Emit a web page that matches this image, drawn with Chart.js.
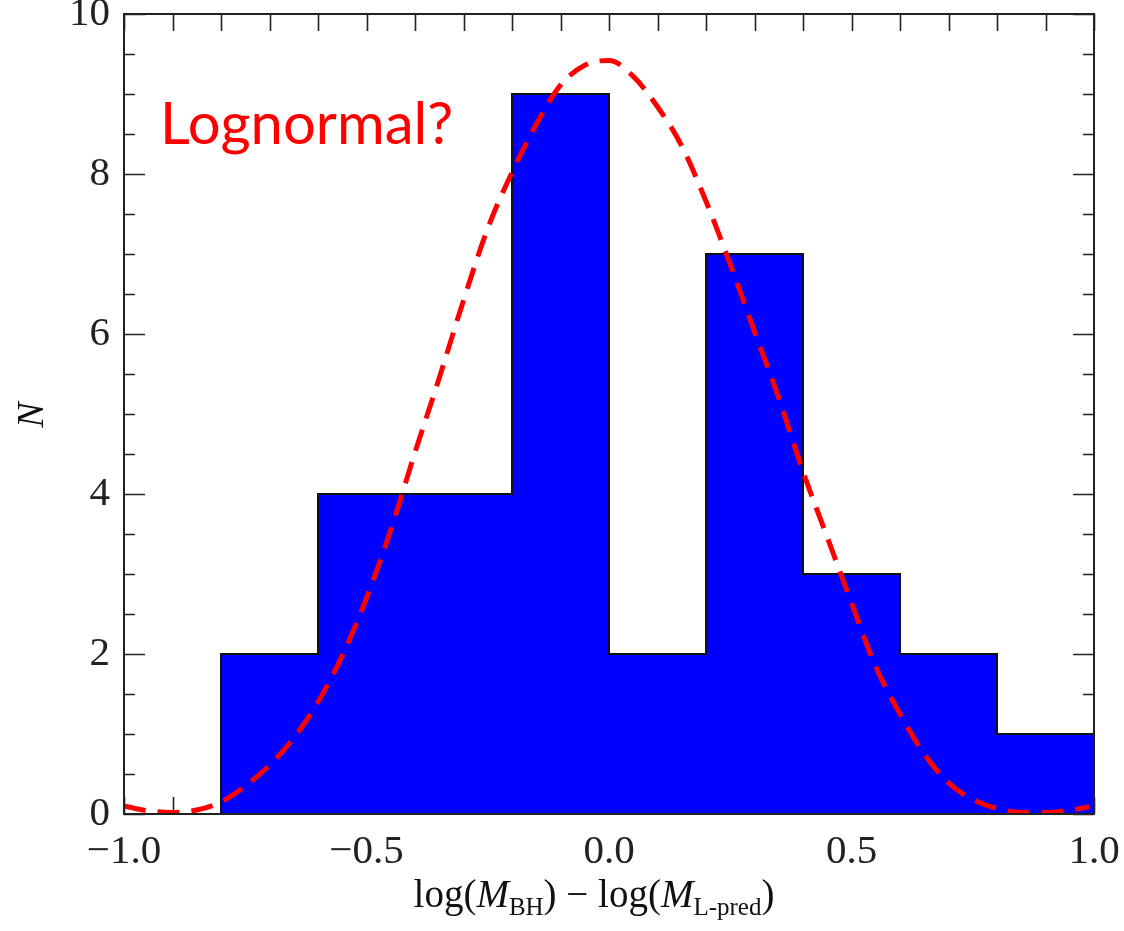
<!DOCTYPE html>
<html>
<head>
<meta charset="utf-8">
<script src="https://cdn.jsdelivr.net/npm/chart.js@4.4.0/dist/chart.umd.min.js"></script>
<style>
  html, body { margin: 0; padding: 0; background: #fff; }
  canvas { display: block; }
</style>
</head>
<body>
<canvas id="histChart" width="1124" height="931"></canvas>
<script>
// histogram bins: left edges plus the final right edge, and counts per bin
const binEdges = [-0.8, -0.6, -0.4, -0.2, 0.0, 0.2, 0.4, 0.6, 0.8, 1.0];
const binCounts = [2, 4, 4, 9, 2, 7, 3, 2, 1];

// dashed model curve, sampled along x
const curveX = [-1.0, -0.95, -0.9, -0.85, -0.8, -0.75, -0.7, -0.65, -0.6, -0.55, -0.5,
                -0.45, -0.4, -0.35, -0.3, -0.25, -0.2, -0.15, -0.1, -0.05, 0.0,
                0.05, 0.1, 0.15, 0.2, 0.25, 0.3, 0.35, 0.4, 0.45, 0.5,
                0.55, 0.6, 0.65, 0.7, 0.75, 0.8, 0.85, 0.9, 0.95, 0.99];
const curveY = [0.10, 0.04, 0.02, 0.05, 0.15, 0.35, 0.61, 0.95, 1.40, 1.98, 2.70,
                3.55, 4.52, 5.45, 6.42, 7.32, 8.02, 8.62, 9.11, 9.36, 9.42,
                9.22, 8.84, 8.35, 7.66, 6.87, 6.03, 5.20, 4.28, 3.46, 2.64,
                1.84, 1.25, 0.75, 0.39, 0.18, 0.07, 0.02, 0.02, 0.05, 0.09];

const xRange = [-1.0, 1.0];
const yRange = [0, 10];

const SERIF = '"Liberation Serif", "DejaVu Serif", serif';

// outline of the histogram as a step path, closed down to zero at both ends
const histPoints = [{ x: binEdges[0], y: 0 }];
binCounts.forEach((c, i) => histPoints.push({ x: binEdges[i], y: c }));
histPoints.push({ x: binEdges[binEdges.length - 1], y: binCounts[binCounts.length - 1] });
histPoints.push({ x: binEdges[binEdges.length - 1], y: 0 });

const curvePoints = curveX.map((x, i) => ({ x, y: curveY[i] }));

const isMultiple = (v, step) => Math.abs(v / step - Math.round(v / step)) < 1e-6;
const fmtMinus = (s) => s.replace('-', '\u2212');

// keep tick labels from pushing the plot area inward
const noLabelPadding = (s) => {
    s.paddingTop = 0; s.paddingBottom = 0;
    s.paddingLeft = 0; s.paddingRight = 0;
};

// frame + inward ticks on all four sides (drawn under the bars)
const frameTicks = {
    id: 'frameTicks',
    beforeDatasetsDraw(chart) {
        const { ctx, chartArea: a, scales } = chart;
        ctx.save();
        ctx.strokeStyle = '#222';
        ctx.lineWidth = 1.6;
        ctx.beginPath();
        scales.x.ticks.forEach(t => {
            const px = Math.round(scales.x.getPixelForValue(t.value)) + 0.5;
            ctx.moveTo(px, a.top); ctx.lineTo(px, a.top + 17);
            ctx.moveTo(px, a.bottom); ctx.lineTo(px, a.bottom - 17);
        });
        scales.y.ticks.forEach(t => {
            const py = Math.round(scales.y.getPixelForValue(t.value)) + 0.5;
            const len = isMultiple(t.value, 2) ? 21 : 11;
            ctx.moveTo(a.left, py); ctx.lineTo(a.left + len, py);
            ctx.moveTo(a.right, py); ctx.lineTo(a.right - len, py);
        });
        ctx.stroke();
        ctx.restore();
    },
    afterDatasetsDraw(chart) {
        const { ctx, chartArea: a } = chart;
        ctx.save();
        ctx.strokeStyle = '#222';
        ctx.lineWidth = 2;
        ctx.strokeRect(a.left, a.top, a.right - a.left, a.bottom - a.top);
        ctx.restore();
    },
    afterDraw(chart) {
        const { ctx } = chart;
        ctx.save();
        ctx.fillStyle = '#111';

        // y axis title
        ctx.font = 'italic 38px ' + SERIF;
        ctx.textAlign = 'center';
        ctx.textBaseline = 'middle';
        ctx.translate(33, 415);
        ctx.rotate(-Math.PI / 2);
        ctx.fillText('N', 0, 0);
        ctx.restore();

        // x axis title with subscripts
        ctx.save();
        ctx.fillStyle = '#111';
        ctx.textBaseline = 'alphabetic';
        ctx.textAlign = 'left';
        const base = '39px ' + SERIF;
        const ital = 'italic 39px ' + SERIF;
        const sub = '25px ' + SERIF;
        const parts = [
            { t: 'log(', f: base, dy: 0 },
            { t: 'M', f: ital, dy: 0 },
            { t: 'BH', f: sub, dy: 8 },
            { t: ') \u2212 log(', f: base, dy: 0 },
            { t: 'M', f: ital, dy: 0 },
            { t: 'L-pred', f: sub, dy: 8 },
            { t: ')', f: base, dy: 0 }
        ];
        let total = 0;
        parts.forEach(p => { ctx.font = p.f; p.w = ctx.measureText(p.t).width; total += p.w; });
        let x = 594 - total / 2;
        const baseline = 907;
        parts.forEach(p => {
            ctx.font = p.f;
            ctx.fillText(p.t, x, baseline + p.dy);
            x += p.w;
        });

        // annotation
        ctx.fillStyle = '#ff0000';
        ctx.font = '58px Lato, "Open Sans", sans-serif';
        ctx.fillText('Lognormal?', 160, 144);
        ctx.restore();
    }
};

new Chart(document.getElementById('histChart'), {
    type: 'line',
    data: {
        datasets: [
            {
                label: 'counts',
                data: histPoints,
                stepped: 'before',
                borderColor: '#111',
                borderWidth: 2,
                backgroundColor: '#0000ff',
                fill: 'origin',
                pointRadius: 0,
                order: 2
            },
            {
                label: 'model',
                data: curvePoints,
                borderColor: '#ff0000',
                borderWidth: 5,
                borderDash: [22, 12],
                cubicInterpolationMode: 'monotone',
                fill: false,
                pointRadius: 0,
                order: 1
            }
        ]
    },
    options: {
        responsive: false,
        animation: false,
        layout: { padding: { top: 14, right: 30, left: 0, bottom: 0 } },
        plugins: { legend: { display: false }, tooltip: { enabled: false } },
        scales: {
            x: {
                type: 'linear',
                min: xRange[0],
                max: xRange[1],
                grid: { display: false, drawTicks: false },
                border: { display: false },
                afterFit: (s) => { s.height = 117; noLabelPadding(s); },
                ticks: {
                    stepSize: 0.1,
                    autoSkip: false,
                    maxRotation: 0,
                    padding: 14,
                    color: '#222',
                    font: { family: SERIF, size: 41 },
                    callback: (v) => isMultiple(v, 0.5) ? fmtMinus(v.toFixed(1)) : ''
                }
            },
            y: {
                min: yRange[0],
                max: yRange[1],
                grid: { display: false, drawTicks: false },
                border: { display: false },
                afterFit: (s) => { s.width = 124; noLabelPadding(s); },
                ticks: {
                    stepSize: 0.5,
                    autoSkip: false,
                    padding: 14,
                    color: '#222',
                    font: { family: SERIF, size: 41 },
                    callback: (v) => isMultiple(v, 2) ? String(Math.round(v)) : ''
                }
            }
        }
    },
    plugins: [frameTicks]
});
</script>
</body>
</html>
